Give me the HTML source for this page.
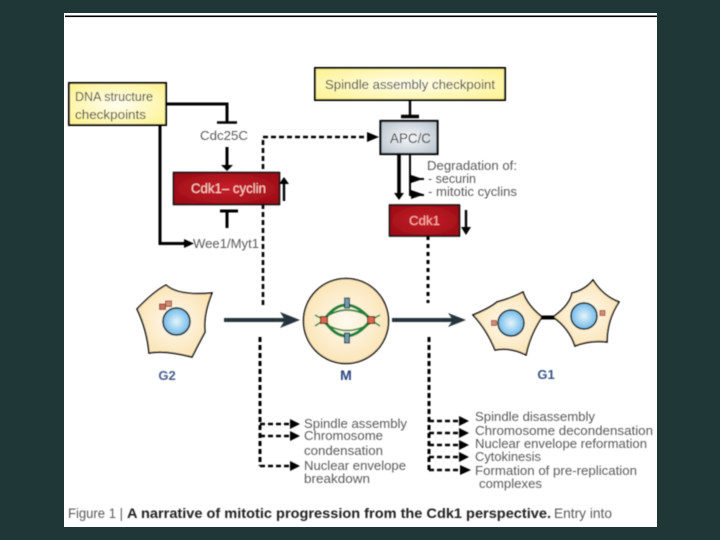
<!DOCTYPE html>
<html>
<head>
<meta charset="utf-8">
<style>
html,body{margin:0;padding:0;width:720px;height:540px;background:#1f3737;overflow:hidden}
svg{display:block}
text{font-family:"Liberation Sans",sans-serif;font-size:13px;fill:#5a5a5a}
</style>
</head>
<body>
<svg width="720" height="540" viewBox="0 0 720 540" xmlns="http://www.w3.org/2000/svg">
<defs>
<filter id="b" x="-5%" y="-5%" width="110%" height="110%"><feGaussianBlur stdDeviation="0.5"/></filter>
<radialGradient id="yel" cx="50%" cy="50%" r="70%"><stop offset="0" stop-color="#fffdf0"/><stop offset="1" stop-color="#fdf28c"/></radialGradient>
<radialGradient id="red" cx="50%" cy="50%" r="70%"><stop offset="0" stop-color="#c8202c"/><stop offset="1" stop-color="#960a12"/></radialGradient>
<radialGradient id="grey" cx="50%" cy="50%" r="65%"><stop offset="0" stop-color="#f6f8fa"/><stop offset="1" stop-color="#b8c3cd"/></radialGradient>
<radialGradient id="cell" cx="50%" cy="50%" r="65%"><stop offset="0" stop-color="#fffaf0"/><stop offset="1" stop-color="#fbdfa8"/></radialGradient>
<radialGradient id="nuc" cx="50%" cy="50%" r="55%"><stop offset="0" stop-color="#e4f5fd"/><stop offset="1" stop-color="#67b4e6"/></radialGradient>
</defs>
<rect x="64" y="13" width="593" height="514" fill="#fff"/>
<rect x="65" y="15.500" width="592" height="1.600" fill="#000"/>
<g filter="url(#b)">
<!-- solid connectors -->
<g fill="none" stroke="#000" stroke-width="3">
<path d="M166 104H227V122"/>
<path d="M217 122.500H237" stroke-width="2.400"/>
<path d="M227 147V167" stroke-width="3"/>
<path d="M220 211H238M227 211V228" stroke-width="3"/>
<path d="M160 125V243.500H186"/>
<path d="M284 201V182" stroke-width="2.400"/>
<path d="M410 100V116" stroke-width="2.400"/>
<path d="M401 116.500H419" stroke-width="3.400"/>
<path d="M399 154V195" stroke-width="3.600"/>
<path d="M410 154V195H424M410 179H424" stroke-width="2"/>
<path d="M466 210V228" stroke-width="2.400"/>
</g>
<g fill="#000">
<path d="M221 165H233L227 171Z"/>
<path d="M184 239L194 243.500L184 248Z"/>
<path d="M279 184L284 177L289 184Z"/>
<path d="M394 193H404L399 200Z"/>
<path d="M411 175L423 179L411 183Z"/>
<path d="M411 190L424 194.500L411 199Z"/>
<path d="M461 227H471L466 235Z"/>
<path d="M367 132L379 137L367 142Z"/>
</g>
<!-- dashed connectors -->
<g fill="none" stroke="#000" stroke-width="2.600" stroke-dasharray="5 3">
<path d="M263 305V137H368"/>
<path d="M428 236V303" stroke-width="3" stroke-dasharray="4 4"/>
<path d="M260 337V466" stroke-width="3"/>
<path d="M429 337V470" stroke-width="3"/>
<path d="M260 424H291M260 436H291M260 466H291"/>
<path d="M429 421H460M429 433H460M429 445H460M429 457H460M429 470H461"/>
</g>
<g fill="#000">
<path d="M290 419L300 424L290 429Z"/><path d="M290 431L300 436L290 441Z"/><path d="M290 461L300 466L290 471Z"/>
<path d="M459 416L469 421L459 426Z"/><path d="M459 428L469 433L459 438Z"/><path d="M459 440L469 445L459 450Z"/><path d="M459 452L469 457L459 462Z"/><path d="M460 465L471 470L460 475Z"/>
</g>
<!-- boxes -->
<rect x="69" y="83" width="97" height="42" fill="url(#yel)" stroke="#000" stroke-width="2"/>
<rect x="315" y="68" width="190" height="32" fill="url(#yel)" stroke="#000" stroke-width="2"/>
<rect x="173.500" y="172.500" width="106" height="32" fill="url(#red)" stroke="#111" stroke-width="1.600"/>
<rect x="380.500" y="121" width="57" height="33" fill="url(#grey)" stroke="#000" stroke-width="2.200"/>
<rect x="389.500" y="205" width="70" height="31" fill="url(#red)" stroke="#111" stroke-width="1.600"/>
<!-- thick arrows -->
<path d="M224 320H288" stroke="#27353d" stroke-width="4"/>
<path d="M280 312L300 320L280 328L285 320Z" fill="#27353d"/>
<path d="M392 320H456" stroke="#27353d" stroke-width="4"/>
<path d="M448 313L466 320L448 327L453 320Z" fill="#27353d"/>
<!-- G2 cell -->
<path d="M137 309Q153 292 166 285Q178 296 212 293Q203 315 205 332Q198 345 192 357Q165 350 149 353Q147 330 137 309Z" fill="url(#cell)" stroke="#000" stroke-width="1.500"/>
<circle cx="176.500" cy="321.500" r="13.500" fill="url(#nuc)" stroke="#000" stroke-width="1.500"/>
<rect x="159.500" y="304" width="6" height="5.500" fill="#c9705c" stroke="#7a3020" stroke-width=".8"/>
<rect x="165.500" y="301" width="6" height="5.500" fill="#d88c78" stroke="#7a3020" stroke-width=".8"/>
<!-- M cell -->
<circle cx="346" cy="321" r="42.500" fill="url(#cell)" stroke="#000" stroke-width="1.500"/>
<g fill="none" stroke="#1e8238" stroke-width="2">
<path d="M324 320Q345 290 371 320" stroke-width="3"/>
<path d="M324 320Q345 352 371 320" stroke-width="3"/>
<path d="M324 318Q347 302 371 318M324 323Q347 338 371 323" stroke-width="1.600"/>
<path d="M315 315L324 320L315 326M380 315L371 320L380 326" stroke-width="1.500"/>
</g>
<rect x="344.500" y="298" width="5" height="10" fill="#6c9ab0" stroke="#000"/>
<rect x="344.500" y="333" width="5" height="10" fill="#6c9ab0" stroke="#000"/>
<rect x="320.500" y="316.500" width="7" height="7" fill="#d9684a" stroke="#000" stroke-width=".8"/>
<rect x="367.500" y="316.500" width="7" height="7" fill="#d9684a" stroke="#000" stroke-width=".8"/>
<!-- G1 cells -->
<path d="M541 317.500H555" stroke="#000" stroke-width="4"/>
<path d="M473 315Q490 308 497 302Q512 298 523 292Q527 305 542 317Q530 335 526 355Q510 347 495 350Q487 330 473 315Z" fill="url(#cell)" stroke="#000" stroke-width="1.500"/>
<path d="M553 317Q570 305 572 293Q585 290 593 280Q603 296 619 302Q607 320 607 342Q590 340 575 346Q569 328 553 317Z" fill="url(#cell)" stroke="#000" stroke-width="1.500"/>
<circle cx="511" cy="323" r="13" fill="url(#nuc)" stroke="#000" stroke-width="1.500"/>
<circle cx="584" cy="316" r="13" fill="url(#nuc)" stroke="#000" stroke-width="1.500"/>
<rect x="491.500" y="320.500" width="5" height="5" fill="#d88c78" stroke="#7a3020" stroke-width=".7"/>
<rect x="600" y="310.500" width="5" height="5" fill="#d88c78" stroke="#7a3020" stroke-width=".7"/>
<!-- labels -->
<text x="75" y="101" textLength="78" lengthAdjust="spacingAndGlyphs" style="fill:#444">DNA structure</text>
<text x="75" y="119" textLength="71" lengthAdjust="spacingAndGlyphs" style="fill:#444">checkpoints</text>
<text x="325" y="89" textLength="170" lengthAdjust="spacingAndGlyphs" style="fill:#444">Spindle assembly checkpoint</text>
<text x="200" y="140" textLength="48" lengthAdjust="spacingAndGlyphs">Cdc25C</text>
<text x="191" y="193" textLength="75" lengthAdjust="spacingAndGlyphs" style="fill:#fbd0c8;font-size:14px">Cdk1– cyclin</text>
<text x="390" y="143" textLength="41" lengthAdjust="spacingAndGlyphs" style="fill:#333;font-size:14px">APC/C</text>
<text x="193" y="248" textLength="66" lengthAdjust="spacingAndGlyphs">Wee1/Myt1</text>
<text x="427" y="170" textLength="90" lengthAdjust="spacingAndGlyphs">Degradation of:</text>
<text x="428" y="183" textLength="48" lengthAdjust="spacingAndGlyphs">- securin</text>
<text x="428" y="196" textLength="89" lengthAdjust="spacingAndGlyphs">- mitotic cyclins</text>
<text x="409" y="225" textLength="31" lengthAdjust="spacingAndGlyphs" style="fill:#fbb4ac;font-size:13px">Cdk1</text>
<text x="167" y="380" text-anchor="middle" style="fill:#4a5f8c;font-weight:bold;font-size:13px">G2</text>
<text x="346" y="380" text-anchor="middle" style="fill:#2f4580;font-weight:bold;font-size:14px">M</text>
<text x="546" y="379" text-anchor="middle" style="fill:#3a5585;font-weight:bold;font-size:13px">G1</text>
<text x="304" y="428" textLength="103" lengthAdjust="spacingAndGlyphs">Spindle assembly</text>
<text x="304" y="440" textLength="79" lengthAdjust="spacingAndGlyphs">Chromosome</text>
<text x="304" y="455" textLength="79" lengthAdjust="spacingAndGlyphs">condensation</text>
<text x="304" y="470" textLength="102" lengthAdjust="spacingAndGlyphs">Nuclear envelope</text>
<text x="304" y="483" textLength="66" lengthAdjust="spacingAndGlyphs">breakdown</text>
<text x="475" y="421" textLength="120" lengthAdjust="spacingAndGlyphs">Spindle disassembly</text>
<text x="475" y="435" textLength="178" lengthAdjust="spacingAndGlyphs">Chromosome decondensation</text>
<text x="475" y="448" textLength="172" lengthAdjust="spacingAndGlyphs">Nuclear envelope reformation</text>
<text x="475" y="461" textLength="66" lengthAdjust="spacingAndGlyphs">Cytokinesis</text>
<text x="475" y="475" textLength="162" lengthAdjust="spacingAndGlyphs">Formation of pre-replication</text>
<text x="479" y="488" textLength="63" lengthAdjust="spacingAndGlyphs">complexes</text>
<text x="68" y="518" textLength="55" lengthAdjust="spacingAndGlyphs" style="font-size:14px">Figure 1 |</text>
<text x="127" y="518" textLength="424" lengthAdjust="spacingAndGlyphs" style="font-size:14px;font-weight:bold;fill:#222">A narrative of mitotic progression from the Cdk1 perspective.</text>
<text x="554" y="518" textLength="58" lengthAdjust="spacingAndGlyphs" style="font-size:14px">Entry into</text>
</g>
</svg>
</body>
</html>
